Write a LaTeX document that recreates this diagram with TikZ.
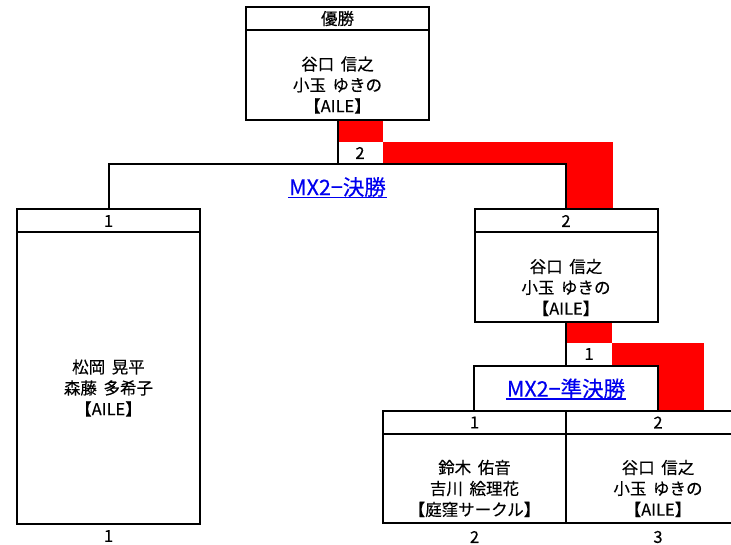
\documentclass[tikz,border=0pt]{standalone}
\usepackage{fontspec}
\setmainfont[FakeBold=0.3]{Noto Sans CJK JP}
\definecolor{linkblue}{RGB}{0,0,238}
\definecolor{winred}{RGB}{255,0,0}
\newcommand{\jsp}{\hspace{0.4em}}
\begin{document}
\begin{tikzpicture}[x=1pt,y=-1pt,
  line width=2pt,
  hdr/.style={draw, minimum width=183pt, minimum height=23pt, inner sep=0pt, outer sep=0pt, font=\fontsize{16.5}{21}\selectfont},
  bodybox/.style={draw, minimum width=183pt, inner sep=0pt, outer sep=0pt, anchor=north},
  names/.style={align=center, font=\fontsize{16.5}{21}\selectfont, inner sep=0pt, yshift=-10pt},
  num/.style={font=\fontsize{16.5}{21}\selectfont, inner sep=0pt},
  title/.style={text=linkblue, font=\fontsize{21.5}{25}\selectfont, inner sep=0pt},
  uline/.style={draw=linkblue, line width=1.6pt},
  redpath/.style={fill=winred},
]
\useasboundingbox (0,0) rectangle (731,545);
\clip (0,0) rectangle (731,545);

% red winner path
\fill[redpath] (337.5,120) rectangle (383,142);
\fill[redpath] (383,142) rectangle (613,164);
\fill[redpath] (566,164) rectangle (613,210);
\fill[redpath] (566,322) rectangle (612,343);
\fill[redpath] (612,343) rectangle (704,365);
\fill[redpath] (658,365) rectangle (704,411);

% champion box
\node[hdr] (winH) at (337.5,18.5) {優勝};
\node[bodybox, minimum height=90pt] (winB) at (winH.south) {};
\node[names] (winN) at (winB.center) {谷口\jsp 信之\\小玉\jsp ゆきの\\【AILE】};

% left finalist
\node[hdr] (leftH) at (108.5,221) {1};
\node[bodybox, minimum height=291pt] (leftB) at (leftH.south) {};
\node[names] (leftN) at (leftB.center) {松岡\jsp 晃平\\森藤\jsp 多希子\\【AILE】};

% right finalist
\node[hdr] (rightH) at (566,221) {2};
\node[bodybox, minimum height=90pt] (rightB) at (rightH.south) {};
\node[names] (rightN) at (rightB.center) {谷口\jsp 信之\\小玉\jsp ゆきの\\【AILE】};

% final connectors
\coordinate (fj) at (337.5,164);
\draw (winB.south) -- (fj);
\draw (leftH.north) |- (fj) -| (rightH.north);
\node[num] (fs) at (360,153) {2};
\node[title] (fT) at (337.5,187) {MX2−決勝};
\draw[uline] ([yshift=-2.5pt]fT.base west) -- ([yshift=-2.5pt]fT.base east);

% semifinal
\node[draw, minimum width=184pt, minimum height=45pt, inner sep=0pt, outer sep=0pt] (sfT) at (566,388.5) {};
\node[title] (sfTt) at (sfT.center) {MX2−準決勝};
\draw[uline] ([yshift=-2.5pt]sfTt.base west) -- ([yshift=-2.5pt]sfTt.base east);
\draw (rightB.south) -- (sfT.north);
\node[num] (sfs) at (589,354) {1};

% bottom boxes
\node[hdr] (b1H) at (474.5,422.5) {1};
\node[bodybox, minimum height=89pt] (b1B) at (b1H.south) {};
\node[names] (b1N) at (b1B.center) {鈴木\jsp 佑音\\吉川\jsp 絵理花\\【庭窪サークル】};
\node[hdr, minimum width=184pt] (b2H) at (658,422.5) {2};
\node[bodybox, minimum width=184pt, minimum height=89pt] (b2B) at (b2H.south) {};
\node[names] (b2N) at (b2B.center) {谷口\jsp 信之\\小玉\jsp ゆきの\\【AILE】};

% seed labels
\node[num] (l1) at (108.5,536) {1};
\node[num] (l2) at (474.5,537) {2};
\node[num] (l3) at (658,537) {3};
\end{tikzpicture}
\end{document}
